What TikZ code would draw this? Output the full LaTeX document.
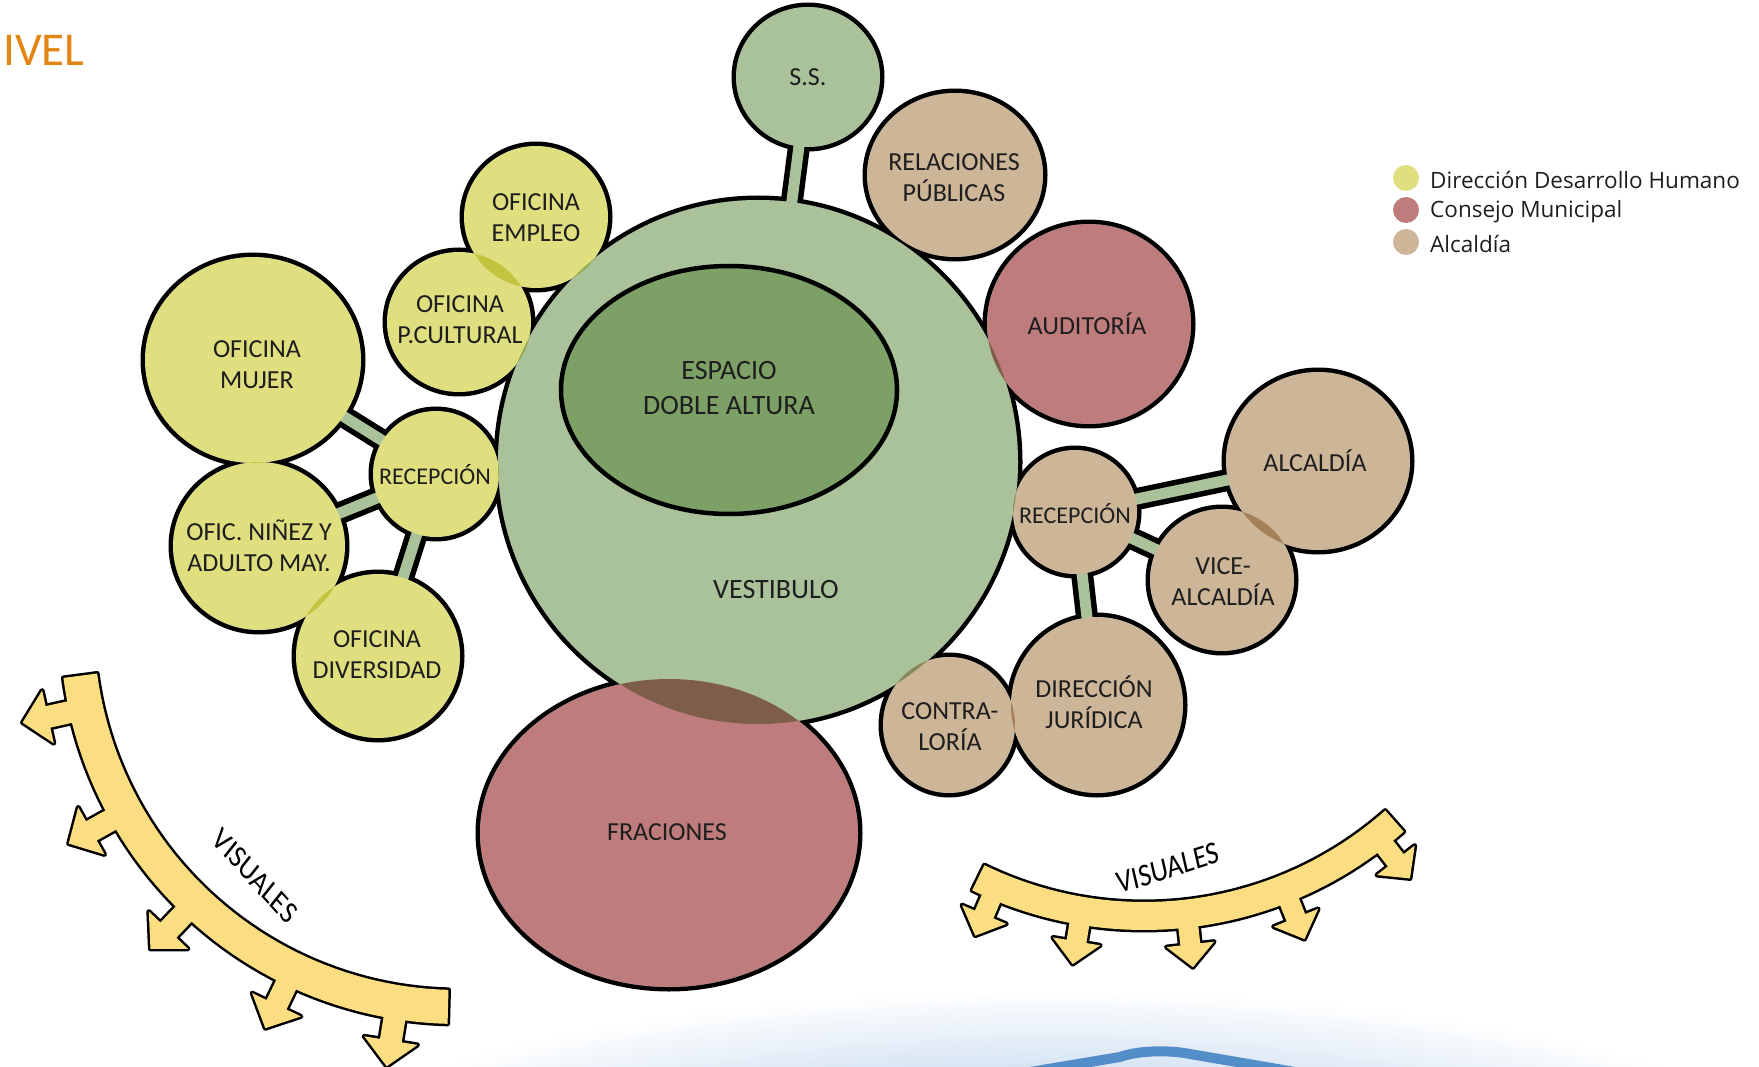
\documentclass[tikz,border=0pt]{standalone}
\usepackage{fontspec}
\setmainfont{Carlito}
\newfontfamily\legendfont{Open Sans}
\usetikzlibrary{calc}
\definecolor{dhyellow}{RGB}{224,223,128}
\definecolor{cmred}{RGB}{191,124,124}
\definecolor{alctan}{RGB}{205,181,151}
\definecolor{vestgreen}{RGB}{169,194,154}
\definecolor{dobgreen}{RGB}{125,160,102}
\definecolor{nivelorange}{RGB}{226,133,18}
\definecolor{visyellow}{RGB}{251,222,130}
\definecolor{glowblue}{RGB}{144,182,223}
\definecolor{lakeblue}{RGB}{84,142,200}
\definecolor{inkgray}{RGB}{30,30,30}

\pgfdeclarelayer{glow}
\pgfdeclarelayer{ink}
\pgfdeclarelayer{neck}
\pgfsetlayers{glow,ink,neck,main}

% point at angle #1, radius #2, side offset #3 round (\vcx,\vcy)
\newcommand{\vpt}[3]{({\vcx+(#2)*cos(#1)-(#3)*sin(#1)},{\vcy+(#2)*sin(#1)+(#3)*cos(#1)})}
\newcommand{\visband}[1]{%
  \path[#1] plot[domain=\vaa:\vab, samples=50] ({\vcx+\vrin*cos(\x)},{\vcy+\vrin*sin(\x)})
    -- plot[domain=\vab:\vaa, samples=50] ({\vcx+\vrout*cos(\x)},{\vcy+\vrout*sin(\x)}) -- cycle;}
\newcommand{\visarrow}[2]{%
  \path[#1] \vpt{#2}{\vrbase}{\vstem} -- \vpt{#2}{\vtip-\vhlen}{\vstem} -- \vpt{#2}{\vtip-\vhlen}{\vhead}
    -- \vpt{#2}{\vtip}{0} -- \vpt{#2}{\vtip-\vhlen}{-\vhead} -- \vpt{#2}{\vtip-\vhlen}{-\vstem}
    -- \vpt{#2}{\vrbase}{-\vstem} -- cycle;}

\tikzset{
  bubink/.style={draw=black, line width=9pt},
  neckink/.style={draw=black, line width=22pt},
  neckfill/.style={draw=vestgreen, line width=11pt},
  bubtext/.style={align=center, text=inkgray, inner sep=0pt, font=\fontsize{26}{31}\selectfont},
  vislabel/.style={text=black, inner sep=0pt, xscale=0.85, font=\fontsize{32}{34}\selectfont},
  visink/.style={draw=black, line width=5pt, line join=round},
  visfill/.style={fill=visyellow},
  legtext/.style={anchor=west, inner sep=0pt, text=inkgray, font=\legendfont\fontsize{22.5}{24}\selectfont},
  lakeline/.style={draw=lakeblue, line width=10pt}
}

\def\bubbles{ss/808/77/72/70/vestgreen, vest/758/462/260/262/vestgreen,
  relac/955/175/88/82/alctan, audit/1089/324/102/100/cmred,
  alcal/1318/461/92/89/alctan, recepR/1075/512/62/62/alctan,
  vice/1222/580/72/71/alctan, jurid/1097/705/86/88/alctan,
  contra/949/725/66/68/alctan, fracc/669/833/189/154/cmred,
  empleo/536/217/72/71/dhyellow, cultur/459/322/72/70/dhyellow,
  mujer/253/360/108/103/dhyellow, recepL/436/474/63/63/dhyellow,
  ninez/259/546/86/84/dhyellow, divers/378/656/82/82/dhyellow}

\begin{document}
\begin{tikzpicture}[x=1pt, y=-1pt]
  \useasboundingbox (0,0) rectangle (1759,1067);

  % bottom glow and lake
  \begin{pgfonlayer}{glow}
    \shade[inner color=glowblue, outer color=white] (1050,1200) ellipse [x radius=800, y radius=210];
    \draw[lakeline] (1030,1072) -- (1120,1057) .. controls (1140,1050) and (1170,1050) .. (1190,1054) -- (1295,1072);
  \end{pgfonlayer}

  \node[anchor=base west, inner sep=0pt, text=nivelorange, font=\fontsize{47}{50}\selectfont] (nivel) at (3,66) {IVEL};

  % bubbles
  \foreach \nm/\cx/\cy/\rx/\ry/\col in \bubbles
    \coordinate (\nm) at (\cx,\cy);
  \begin{pgfonlayer}{ink}
    \foreach \nm/\cx/\cy/\rx/\ry/\col in \bubbles
      \draw[bubink] (\cx,\cy) ellipse [x radius=\rx, y radius=\ry];
    \foreach \a/\b in {ss/vest, mujer/recepL, recepL/ninez, recepL/divers, recepR/alcal, recepR/vice, recepR/jurid}
      \draw[neckink] (\a) -- (\b);
  \end{pgfonlayer}
  \begin{pgfonlayer}{neck}
    \foreach \a/\b in {ss/vest, mujer/recepL, recepL/ninez, recepL/divers, recepR/alcal, recepR/vice, recepR/jurid}
      \draw[neckfill] (\a) -- (\b);
  \end{pgfonlayer}
  \foreach \nm/\cx/\cy/\rx/\ry/\col in \bubbles
    \fill[white] (\cx,\cy) ellipse [x radius=\rx, y radius=\ry];
  \begin{scope}[blend mode=multiply]
    \foreach \nm/\cx/\cy/\rx/\ry/\col in \bubbles
      \fill[\col] (\cx,\cy) ellipse [x radius=\rx, y radius=\ry];
  \end{scope}
  \draw[line width=4.5pt, fill=dobgreen] (729,390) ellipse [x radius=168, y radius=124];

  % labels
  \node[bubtext] (sslbl) at (808,77) {S.S.};
  \node[bubtext] (relaclbl) at (954,178) {RELACIONES\\PÚBLICAS};
  \node[bubtext] (auditlbl) at (1087,324) {AUDITORÍA};
  \node[bubtext] (alcallbl) at (1315,461) {ALCALDÍA};
  \node[bubtext, font=\fontsize{24}{29}\selectfont] (recepRlbl) at (1075,514) {RECEPCIÓN};
  \node[bubtext] (vicelbl) at (1223,582) {VICE-\\ALCALDÍA};
  \node[bubtext] (juridlbl) at (1094,702) {DIRECCIÓN\\JURÍDICA};
  \node[bubtext] (contralbl) at (950,727) {CONTRA-\\LORÍA};
  \node[bubtext] (fracclbl) at (667,832) {FRACIONES};
  \node[bubtext, font=\fontsize{28}{35}\selectfont] (vestlbl) at (776,590) {VESTIBULO};
  \node[bubtext, font=\fontsize{28}{35}\selectfont] (espaciolbl) at (729,388) {ESPACIO\\DOBLE ALTURA};
  \node[bubtext] (empleolbl) at (536,218) {OFICINA\\EMPLEO};
  \node[bubtext] (culturlbl) at (460,320) {OFICINA\\P.CULTURAL};
  \node[bubtext] (mujerlbl) at (257,365) {OFICINA\\MUJER};
  \node[bubtext, font=\fontsize{24}{29}\selectfont] (recepLlbl) at (435,475) {RECEPCIÓN};
  \node[bubtext] (ninezlbl) at (259,546) {OFIC. NIÑEZ Y\\ADULTO MAY.};
  \node[bubtext] (diverslbl) at (377,655) {OFICINA\\DIVERSIDAD};

  % visuales, left
  \begin{scope}
    \def\vcx{458}\def\vcy{626}\def\vrin{364}\def\vrout{398}\def\vaa{91.5}\def\vab{172.5}
    \def\vrbase{392}\def\vtip{446}\def\vstem{11}\def\vhead{27}\def\vhlen{26}
    \begin{pgfonlayer}{ink}
      \visband{visink}
      \foreach \a in {167.5,150.8,133.6,115.6,99.2} {\visarrow{visink}{\a}}
    \end{pgfonlayer}
    \visband{visfill}
    \foreach \a in {167.5,150.8,133.6,115.6,99.2} {\visarrow{visfill}{\a}}
    \node[vislabel, rotate=-43] (visleft) at (255,876) {VISUALES};
  \end{scope}

  % visuales, right
  \begin{scope}
    \def\vcx{1144}\def\vcy{538}\def\vrin{364}\def\vrout{392}\def\vaa{48.5}\def\vab{116}
    \def\vrbase{386}\def\vtip{432}\def\vstem{10}\def\vhead{24}\def\vhlen{23}
    \begin{pgfonlayer}{ink}
      \visband{visink}
      \foreach \a in {113,99.5,83.5,68.2,52} {\visarrow{visink}{\a}}
    \end{pgfonlayer}
    \visband{visfill}
    \foreach \a in {113,99.5,83.5,68.2,52} {\visarrow{visfill}{\a}}
    \node[vislabel, rotate=15] (visright) at (1168,868) {VISUALES};
  \end{scope}

  % legend
  \foreach \col/\txt [count=\i] in {dhyellow/Dirección Desarrollo Humano, cmred/Consejo Municipal, alctan/Alcaldía} {
    \fill[\col] (1406,{146+32*\i}) circle [radius=13];
    \node[legtext] (leg\i) at (1430,{148+32*\i}) {\txt};
  }
\end{tikzpicture}
\end{document}
